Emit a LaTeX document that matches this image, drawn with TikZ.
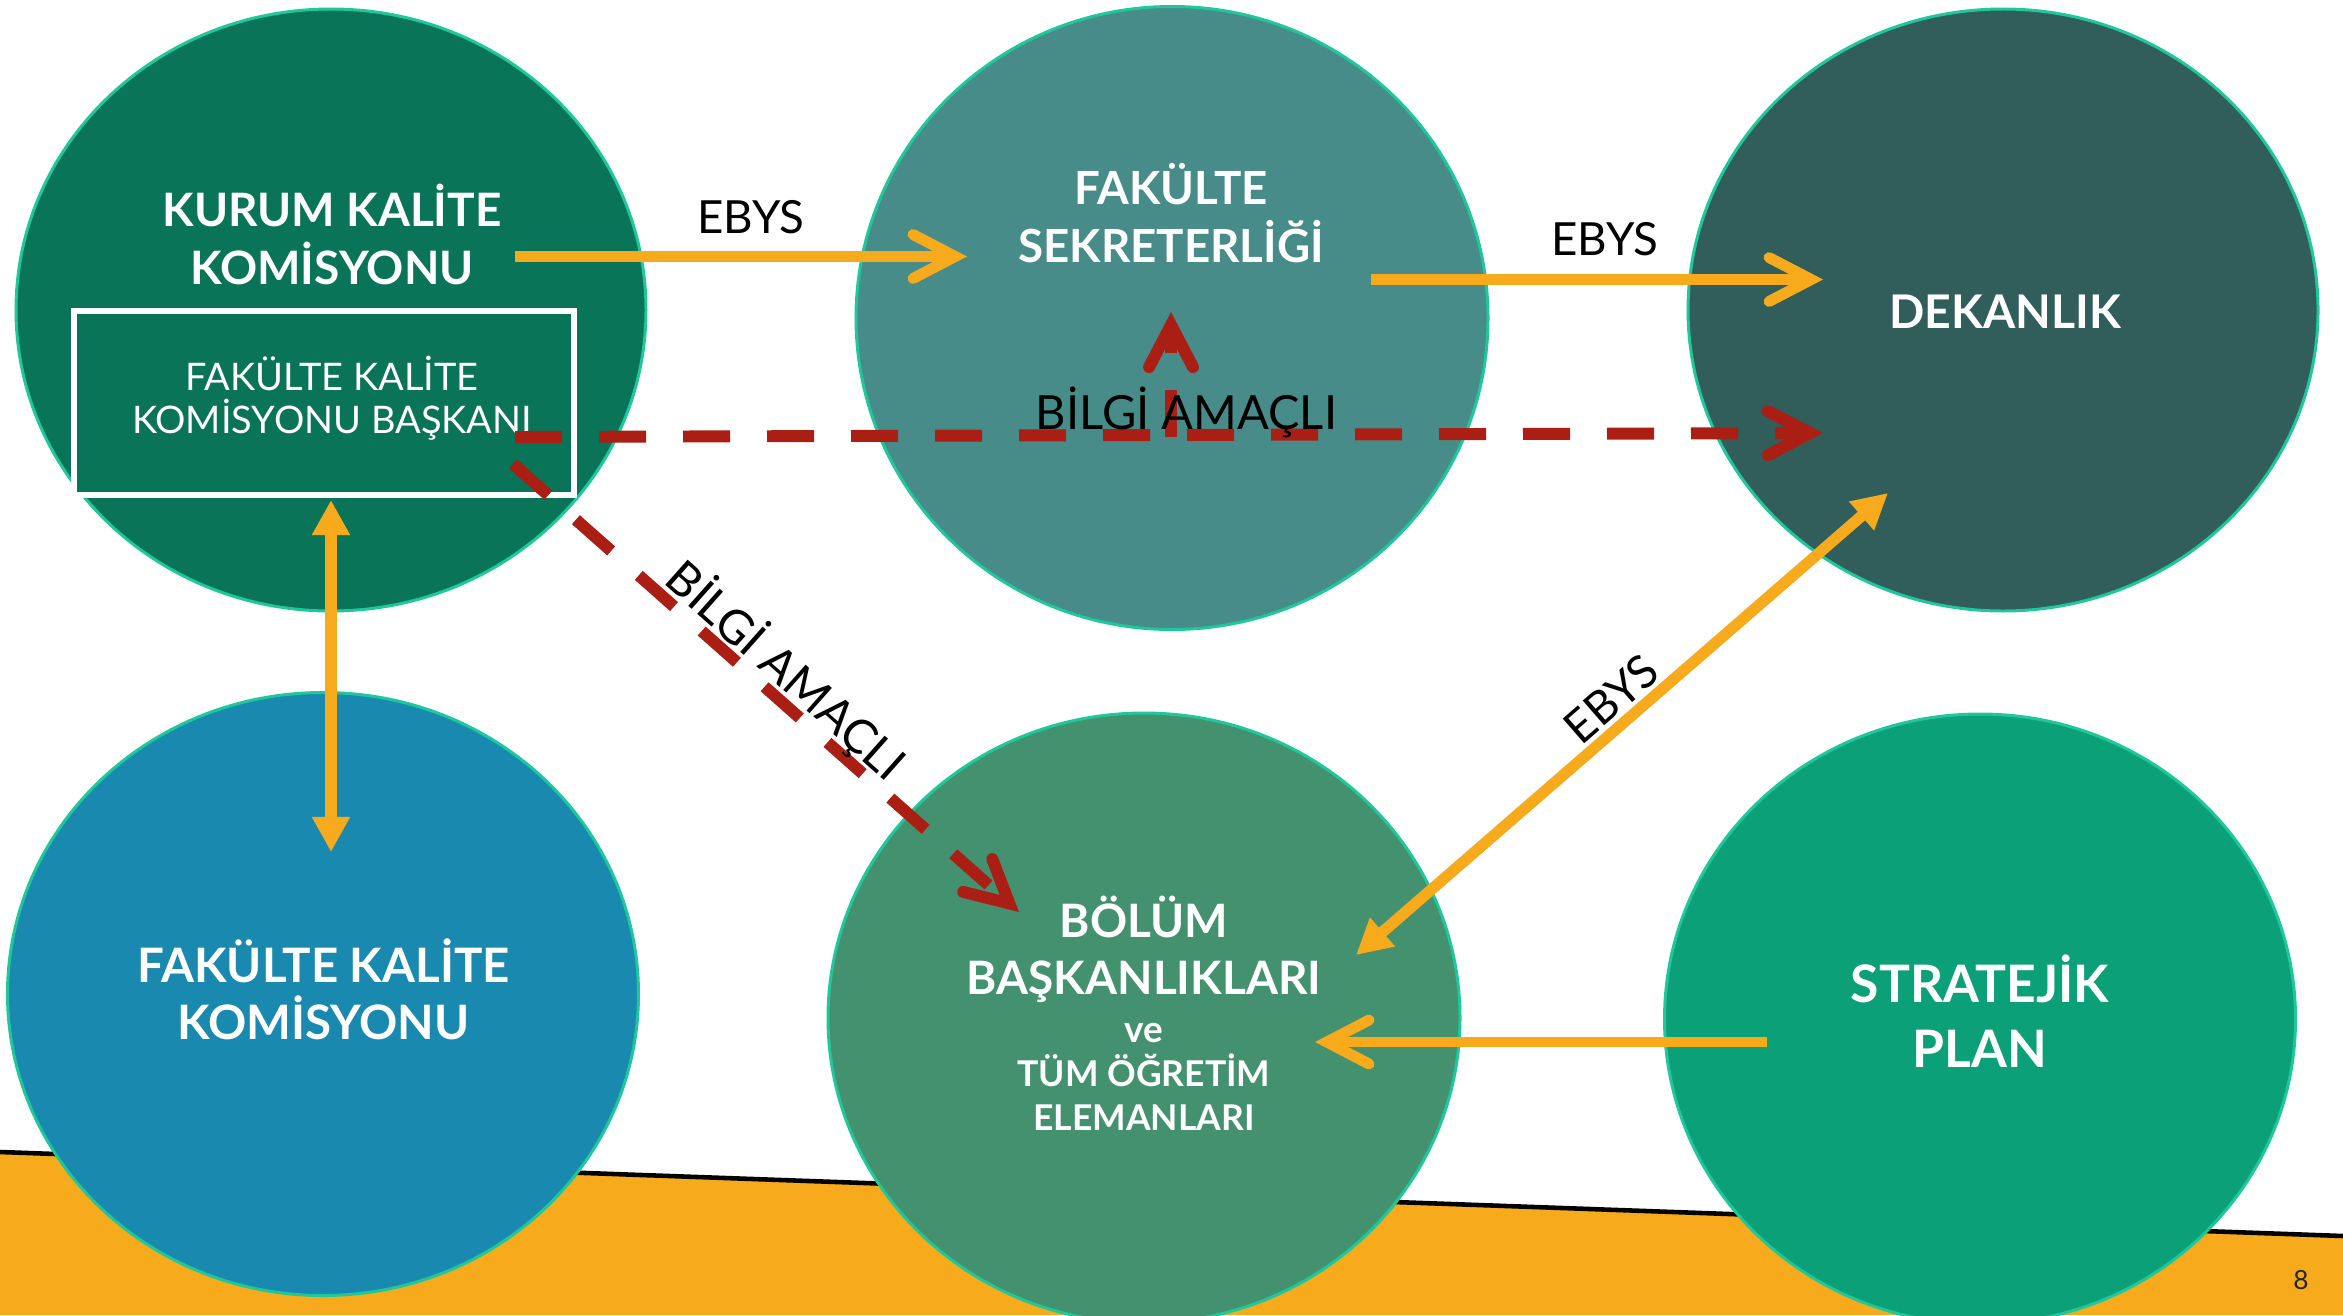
\documentclass[tikz,border=0pt]{standalone}
\usepackage{fontspec}
\setmainfont{Lato}
\usetikzlibrary{arrows.meta,shapes.geometric}
\definecolor{cKK}{RGB}{10,116,88}
\definecolor{cFS}{RGB}{72,140,137}
\definecolor{cDK}{RGB}{49,93,91}
\definecolor{cFK}{RGB}{25,137,176}
\definecolor{cBB}{RGB}{68,145,112}
\definecolor{cSP}{RGB}{12,160,120}
\definecolor{cEdge}{RGB}{30,200,155}
\definecolor{cOr}{RGB}{247,170,28}
\definecolor{cRed}{RGB}{170,30,20}
\tikzset{
  blob/.style={ellipse, draw=cEdge, line width=0.85pt, inner sep=0pt},
  ttl/.style={text=white, anchor=base, inner sep=0pt, font=\bfseries\fontsize{#1}{#1}\selectfont},
  thin/.style={text=white, anchor=base, inner sep=0pt, font=\fontsize{#1}{#1}\selectfont},
  lbl/.style={text=black, anchor=base, inner sep=0pt, font=\fontsize{#1}{#1}\selectfont},
  obarb/.style={draw=cOr, line width=3.1pt, -{Straight Barb[length=12pt,width=12.5pt,line cap=round,line join=miter]}},
  otri/.style={draw=cOr, line width=3.2pt, {Triangle[length=10pt,width=10.2pt]}-{Triangle[length=10pt,width=10.2pt]}},
  rdash/.style={draw=cRed, line width=3.4pt, dash pattern=on 13.4pt off 10.5pt, -{Straight Barb[length=12pt,width=12.5pt,line cap=round,line join=miter]}},
}
\begin{document}
\begin{tikzpicture}[x=0.1mm,y=-0.1mm]
\useasboundingbox (0,0) rectangle (2343,1315);
% bottom band
\fill[cOr] (0,1152) -- (2343,1236) -- (2343,1315) -- (0,1315) -- cycle;
\draw[black, line width=1.3pt] (0,1152) -- (2343,1236);
% circles
\node[blob, fill=cKK, minimum width=63mm, minimum height=60.2mm] (kk) at (331,310) {};
\node[blob, fill=cFS, minimum width=63.2mm, minimum height=62.3mm] (fs) at (1172,318) {};
\node[blob, fill=cDK, minimum width=63mm, minimum height=60.2mm] (dk) at (2003,310) {};
\node[blob, fill=cFK, minimum width=63.1mm, minimum height=60.3mm] (fk) at (323,994) {};
\node[blob, fill=cBB, minimum width=63.2mm, minimum height=61mm] (bb) at (1144,1018) {};
\node[blob, fill=cSP, minimum width=63.1mm, minimum height=61mm] (sp) at (1980,1019) {};
% inner box
\node[draw=white, line width=1.7pt, fill=cKK, minimum width=50mm, minimum height=18.4mm, inner sep=0pt] (bk) at (324,403) {};
% circle texts
\node[ttl=13.1pt] (kk1) at (332,226) {KURUM KALİTE};
\node[ttl=13.1pt] (kk2) at (332,284) {KOMİSYONU};
\node[thin=10.8pt] (bk1) at (332,390) {FAKÜLTE KALİTE};
\node[thin=10.8pt] (bk2) at (332,433) {KOMİSYONU BAŞKANI};
\node[ttl=13pt] (fs1) at (1171,204) {FAKÜLTE};
\node[ttl=13pt] (fs2) at (1171,262) {SEKRETERLİĞİ};
\node[ttl=13.2pt] (dk1) at (2005,328) {DEKANLIK};
\node[ttl=13.5pt] (fk1) at (323.5,982) {FAKÜLTE KALİTE};
\node[ttl=13.5pt] (fk2) at (323.5,1039) {KOMİSYONU};
\node[ttl=13.1pt] (bb1) at (1144,937.5) {BÖLÜM};
\node[ttl=13.1pt] (bb2) at (1144,994) {BAŞKANLIKLARI};
\node[ttl=10.5pt] (bb3) at (1144,1042) {ve};
\node[ttl=10.1pt] (bb4) at (1144,1086) {TÜM ÖĞRETİM};
\node[ttl=10.1pt] (bb5) at (1144,1130.5) {ELEMANLARI};
\node[ttl=14.7pt] (sp1) at (1980,1002) {STRATEJİK};
\node[ttl=14.7pt] (sp2) at (1980,1067) {PLAN};
% connector end points
\coordinate (kkOut) at (515,256.5);
\coordinate (fsIn) at (967,256.5);
\coordinate (fsOut) at (1371,279.5);
\coordinate (dkIn) at (1823,279.5);
\coordinate (bkOut) at (515,437);
\coordinate (dkInR) at (1823,433);
\coordinate (fsUpS) at (1171,437);
\coordinate (fsUpE) at (1171,312);
\coordinate (bkDiag) at (513,464);
\coordinate (bbInR) at (1019,912);
\coordinate (kkDown) at (331,500);
\coordinate (fkUp) at (331,852);
\coordinate (bbInO) at (1356,955);
\coordinate (dkInO) at (1888,493);
\coordinate (spOut) at (1767,1042);
\coordinate (bbInS) at (1315,1042);
% connectors
\draw[obarb] (kkOut) -- (fsIn);
\draw[obarb] (fsOut) -- (dkIn);
\draw[rdash] (bkOut) -- (dkInR);
\draw[rdash] (fsUpS) -- (fsUpE);
\draw[rdash] (bkDiag) -- (bbInR);
\draw[otri] (kkDown) -- (fkUp);
\draw[otri] (bbInO) -- (dkInO);
\draw[obarb] (spOut) -- (bbInS);
% labels
\node[lbl=13pt] (e1) at (751,233) {EBYS};
\node[lbl=13pt] (e2) at (1605,255) {EBYS};
\node[lbl=13pt, rotate=41] (e3) at (1622,711) {EBYS};
\node[lbl=13.4pt] (b1) at (1186.5,429) {BİLGİ AMAÇLI};
\node[lbl=13.4pt, rotate=-41.6] (b2) at (775,683) {BİLGİ AMAÇLI};
\node[lbl=7.5pt, text=black!85] (pg) at (2301,1289) {8};
\end{tikzpicture}
\end{document}
